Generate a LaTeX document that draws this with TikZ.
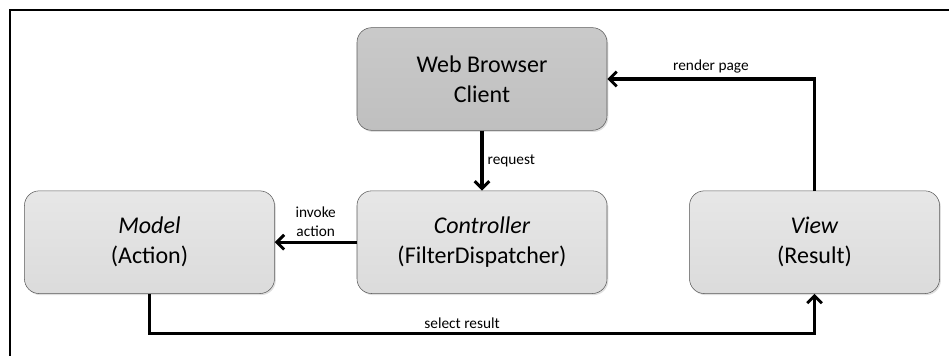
\documentclass[tikz,border=0pt]{standalone}
\usepackage{fontspec}
\setmainfont{Carlito}
\usepackage{xcolor}
\usetikzlibrary{arrows.meta,positioning,shadows}

\definecolor{boxline}{HTML}{5A5A5A}

\begin{document}
\begin{tikzpicture}[
  x=0.75pt, y=-0.75pt,
  node distance=45pt and 61.5pt,
  box/.style={draw=boxline, rounded corners=11pt, top color=gray!19, bottom color=gray!28, minimum width=187.5pt, minimum height=77pt, align=center, font=\fontsize{18}{22.5}\selectfont, drop shadow={opacity=0.25, shadow xshift=1pt, shadow yshift=-1.2pt}},
  darkbox/.style={box, top color=gray!42, bottom color=gray!50},
  lbl/.style={font=\fontsize{11.5}{14.25}\selectfont, align=center, inner sep=3pt},
  arr/.style={-{Straight Barb[length=5.5pt, width=11pt, line width=2.2pt]}, line width=2.4pt}
]
  \useasboundingbox (0,0) rectangle (949,356);
  \draw[line width=2.2pt] (10,356) -- (10,10) -- (949,10);

  \node[darkbox] (browser) at (482,79) {Web Browser\\Client};
  \node[box, below=of browser] (ctrl) {\textit{Controller}\\(FilterDispatcher)};
  \node[box, left=of ctrl] (model) {\textit{Model}\\(Action)};
  \node[box, right=of ctrl] (view) {\textit{View}\\(Result)};

  \draw[arr] (browser) -- node[lbl, right] {request} (ctrl);
  \draw[arr] (ctrl) -- node[lbl, above] {invoke\\action} (model);
  \draw[arr] (view.north) |- node[lbl, above, pos=0.75] {render page} (browser.east);
  \draw[arr] (model.south) -- ++(0,40) -| node[lbl, above, pos=0.235] {select result} (view.south);
\end{tikzpicture}
\end{document}
